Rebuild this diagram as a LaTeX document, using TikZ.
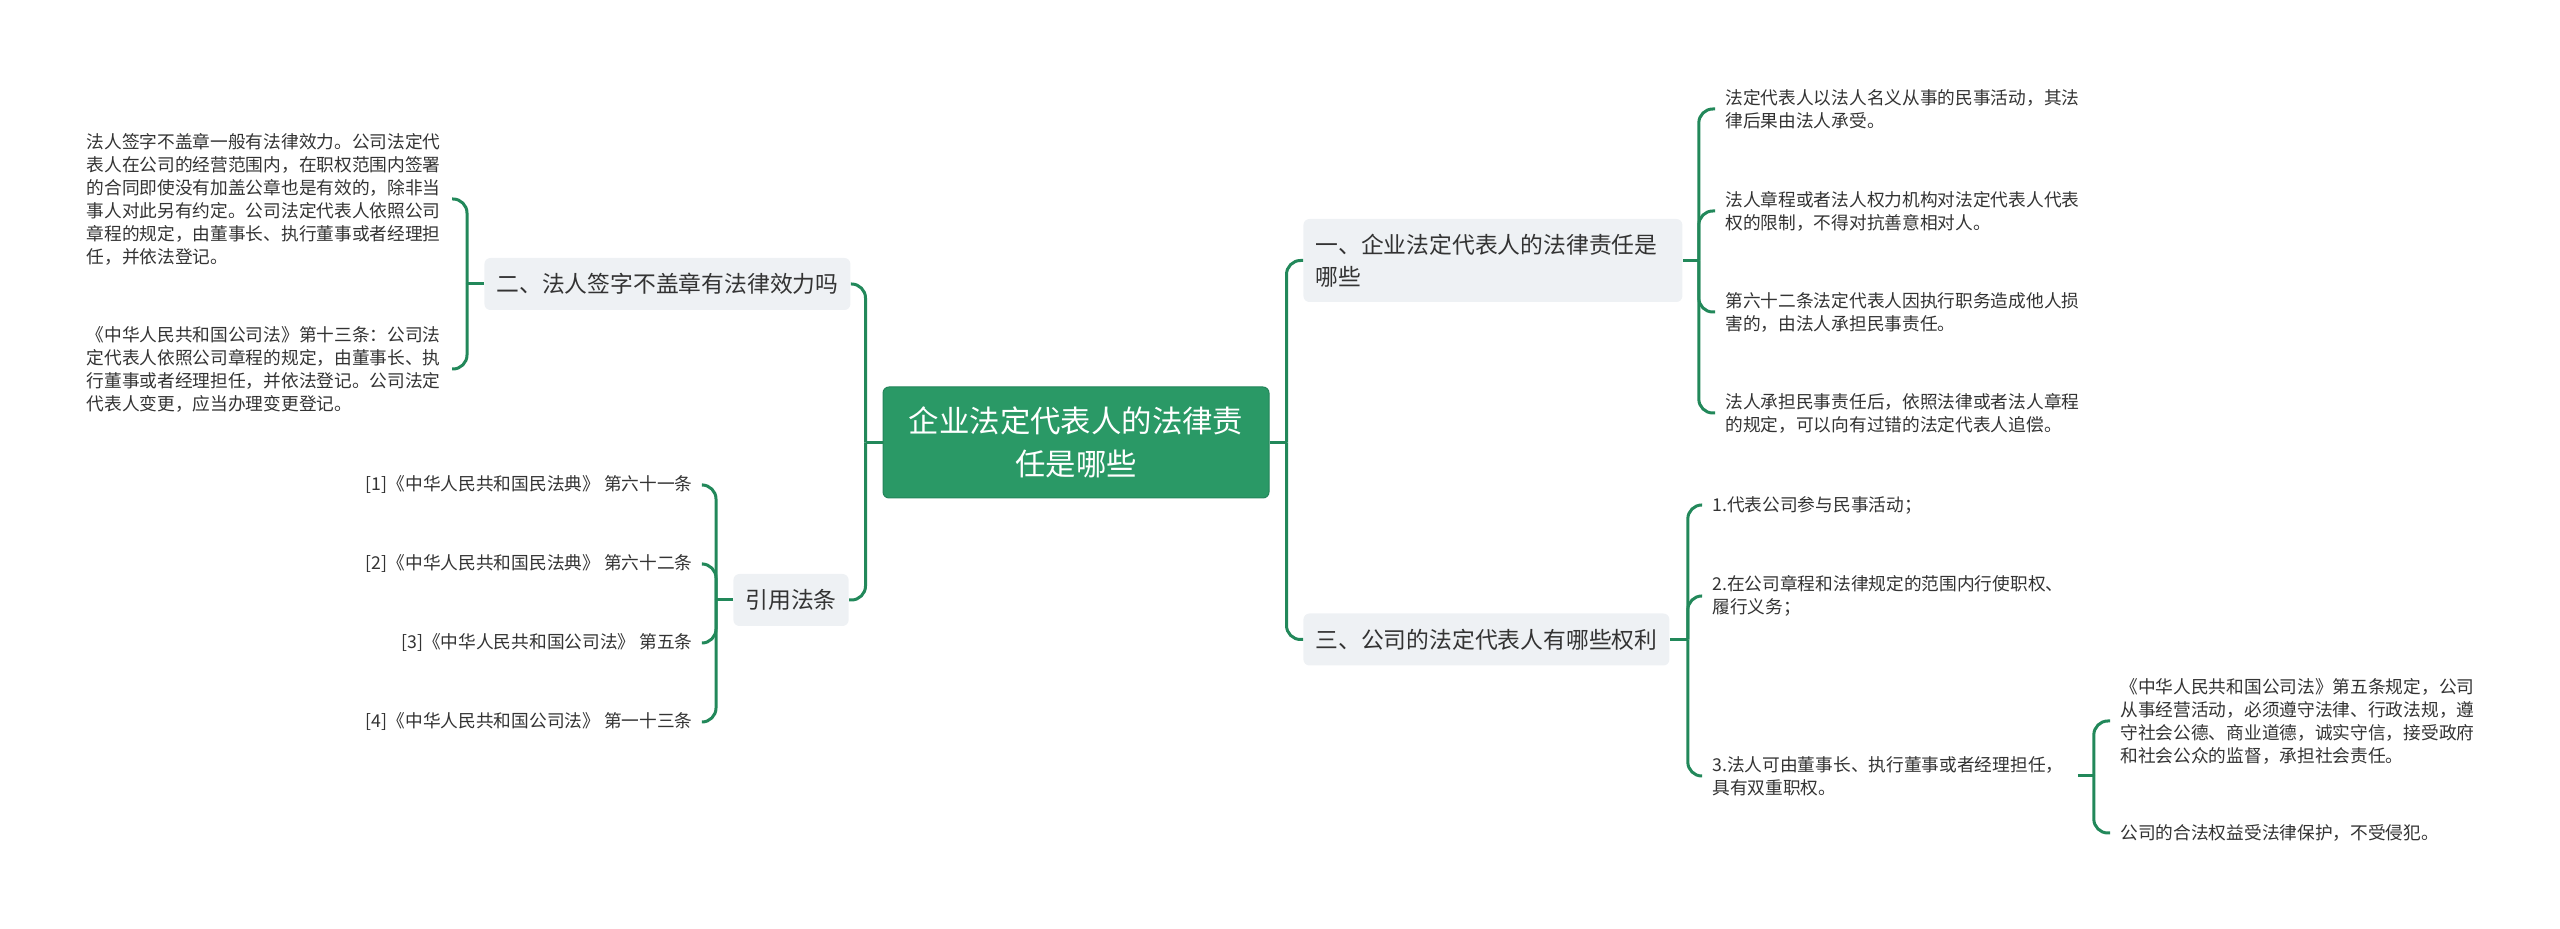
\documentclass[tikz,border=0pt]{standalone}
\usepackage{fontspec}
\setmainfont{Noto Sans CJK SC}
\usepackage{xcolor}
\usepackage{tikz}
\usetikzlibrary{positioning}
\definecolor{rootfill}{HTML}{2A9966}
\definecolor{rootline}{HTML}{23845A}
\definecolor{branch}{HTML}{22885A}
\definecolor{topicfill}{HTML}{EEF1F4}
\definecolor{ink}{HTML}{333333}
\tikzset{
  rootbox/.style  = {fill=rootfill, draw=rootline, line width=0.5pt, rounded corners=3pt, text=white,
                     font=\fontsize{15.2}{21.5}\selectfont, text width=167.5pt, align=center,
                     inner xsep=12.75pt, inner ysep=0pt, minimum height=55.5pt},
  topic/.style    = {fill=topicfill, rounded corners=3pt, text=ink, font=\fontsize{11.4}{16}\selectfont,
                     align=left, inner xsep=6pt, inner ysep=0pt, minimum height=26pt, anchor=west},
  leaf/.style     = {text=ink, font=\fontsize{8.85}{11.5}\selectfont, text width=177.5pt, align=left,
                     inner xsep=5pt, inner ysep=0pt, anchor=west},
  cite/.style     = {text=ink, font=\fontsize{8.85}{11.5}\selectfont, align=right,
                     inner xsep=5pt, inner ysep=0pt, anchor=east},
  conn/.style     = {draw=branch, line width=1.5pt, rounded corners=7pt},
}
\begin{document}
\begin{tikzpicture}[x=0.5pt,y=-0.5pt]
\path[use as bounding box] (0,0) rectangle (2560,929);

% ---- centre ------------------------------------------------------------
\node[rootbox] (root) at (1076,442.5) {企业法定代表人的法律责\\任是哪些};

% ---- left: topic two ---------------------------------------------------
\node[topic] (tTwo) at (484,284) {二、法人签字不盖章有法律效力吗};
\node[leaf, anchor=east] (sign) at (452,199)
  {法人签字不盖章一般有法律效力。公司法定代\\表人在公司的经营范围内，在职权范围内签署\\的合同即使没有加盖公章也是有效的，除非当\\事人对此另有约定。公司法定代表人依照公司\\章程的规定，由董事长、执行董事或者经理担\\任，并依法登记。};
\node[leaf, anchor=east] (artThirteen) at (452,369)
  {《中华人民共和国公司法》第十三条：公司法\\定代表人依照公司章程的规定，由董事长、执\\行董事或者经理担任，并依法登记。公司法定\\代表人变更，应当办理变更登记。};

% ---- left: cited articles ----------------------------------------------
\node[topic, anchor=east] (tCite) at (849,600) {引用法条};
\node[cite] (refA) at (703,485) {[1]《中华人民共和国民法典》 第六十一条};
\node[cite] (refB) at (703,564) {[2]《中华人民共和国民法典》 第六十二条};
\node[cite] (refC) at (703,643) {[3]《中华人民共和国公司法》 第五条};
\node[cite] (refD) at (703,722) {[4]《中华人民共和国公司法》 第一十三条};

% ---- right: topic one --------------------------------------------------
\node[topic, text width=177.5pt, minimum height=41.5pt] (tOne) at (1303,260.5)
  {一、企业法定代表人的法律责任是\\哪些};
\node[leaf] (dutyA) at (1715,109) {法定代表人以法人名义从事的民事活动，其法\\律后果由法人承受。};
\node[leaf] (dutyB) at (1715,211) {法人章程或者法人权力机构对法定代表人代表\\权的限制，不得对抗善意相对人。};
\node[leaf] (dutyC) at (1715,312) {第六十二条法定代表人因执行职务造成他人损\\害的，由法人承担民事责任。};
\node[leaf] (dutyD) at (1715,413) {法人承担民事责任后，依照法律或者法人章程\\的规定，可以向有过错的法定代表人追偿。};

% ---- right: topic three ------------------------------------------------
\node[topic] (tThree) at (1303,639.5) {三、公司的法定代表人有哪些权利};
\node[leaf] (rightA) at (1702,505) {1.代表公司参与民事活动；};
\node[leaf] (rightB) at (1702,596) {2.在公司章程和法律规定的范围内行使职权、\\履行义务；};
\node[leaf] (rightC) at (1702,776) {3.法人可由董事长、执行董事或者经理担任，\\具有双重职权。};
\node[leaf] (artFive) at (2110,721)
  {《中华人民共和国公司法》第五条规定，公司\\从事经营活动，必须遵守法律、行政法规，遵\\守社会公德、商业道德，诚实守信，接受政府\\和社会公众的监督，承担社会责任。};
\node[leaf] (protect) at (2110,833) {公司的合法权益受法律保护，不受侵犯。};

% ---- junctions ---------------------------------------------------------
\coordinate (jRootL) at ([xshift=-8.5pt]root.west);
\coordinate (jRootR) at ([xshift=8.5pt]root.east);
\coordinate (jTwo)   at ([xshift=-8.5pt]tTwo.west);
\coordinate (jCite)  at ([xshift=-8.5pt]tCite.west);
\coordinate (jOne)   at ([xshift=8pt]tOne.east);
\coordinate (jThree) at ([xshift=9pt]tThree.east);
\coordinate (jRight) at ([xshift=8pt]rightC.east);

% ---- connectors --------------------------------------------------------
\draw[conn] (root.west) -- (jRootL);
\draw[conn] (root.east) -- (jRootR);
\foreach \n in {tTwo,tCite}{ \draw[conn] (jRootL) |- (\n.east); }
\foreach \n in {tOne,tThree}{ \draw[conn] (jRootR) |- (\n.west); }

\draw[conn] (tTwo.west) -- (jTwo);
\foreach \n in {sign,artThirteen}{ \draw[conn] (jTwo) |- (\n.east); }

\draw[conn] (tCite.west) -- (jCite);
\foreach \n in {refA,refB,refC,refD}{ \draw[conn] (jCite) |- (\n.east); }

\draw[conn] (tOne.east) -- (jOne);
\foreach \n in {dutyA,dutyB,dutyC,dutyD}{ \draw[conn] (jOne) |- (\n.west); }

\draw[conn] (tThree.east) -- (jThree);
\foreach \n in {rightA,rightB,rightC}{ \draw[conn] (jThree) |- (\n.west); }

\draw[conn] (rightC.east) -- (jRight);
\foreach \n in {artFive,protect}{ \draw[conn] (jRight) |- (\n.west); }

\end{tikzpicture}
\end{document}
